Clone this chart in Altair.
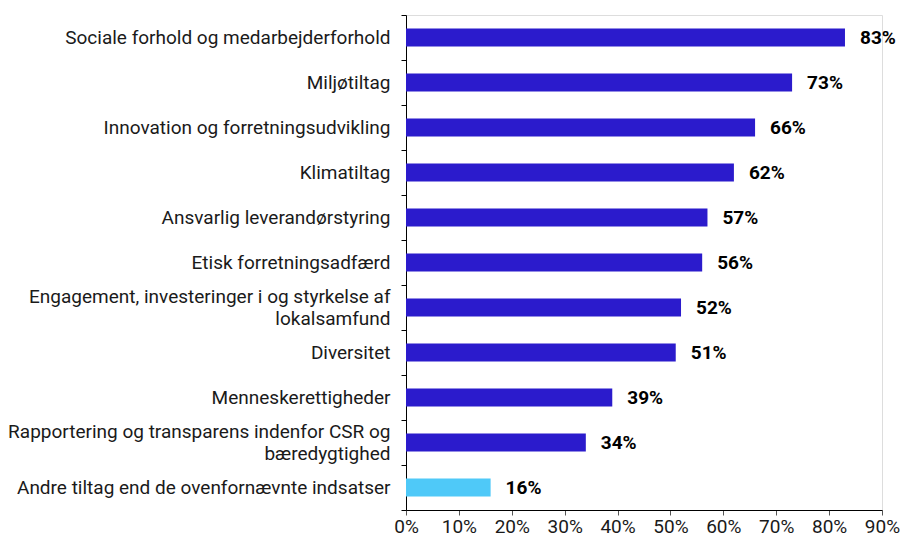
import altair as alt
import pandas as pd

categories = [
    "Sociale forhold og medarbejderforhold",
    "Miljøtiltag",
    "Innovation og forretningsudvikling",
    "Klimatiltag",
    "Ansvarlig leverandørstyring",
    "Etisk forretningsadfærd",
    "Engagement, investeringer i og styrkelse af|lokalsamfund",
    "Diversitet",
    "Menneskerettigheder",
    "Rapportering og transparens indenfor CSR og|bæredygtighed",
    "Andre tiltag end de ovenfornævnte indsatser",
]
values = [0.83, 0.73, 0.66, 0.62, 0.57, 0.56, 0.52, 0.51, 0.39, 0.34, 0.16]
groups = ["main"] * 10 + ["other"]

df = pd.DataFrame({"cat": categories, "val": values, "grp": groups})

FONT = "Roboto"

y = alt.Y(
    "cat:N",
    sort=categories,
    scale=alt.Scale(paddingInner=0, paddingOuter=0),
    axis=alt.Axis(
        title=None,
        labelExpr="split(datum.label, '|')",
        labelFontSize=19,
        labelColor="#1a1a1a",
        labelFont=FONT,
        labelPadding=11,
        labelLineHeight=22,
        labelOffset={"condition": {"test": "indexof(datum.label, '|') >= 0", "value": -11}, "value": 0},
        ticks=True,
        tickBand="extent",
        tickColor="#000000",
        tickSize=5,
        tickWidth=1,
        domainColor="#000000",
        labelLimit=400,
    ),
)

x = alt.X(
    "val:Q",
    scale=alt.Scale(domain=[0, 0.9], nice=False),
    axis=alt.Axis(
        title=None,
        format=".0%",
        values=[0, 0.1, 0.2, 0.3, 0.4, 0.5, 0.6, 0.7, 0.8, 0.9],
        grid=False,
        labelFontSize=19,
        labelColor="#1a1a1a",
        labelFont=FONT,
        labelPadding=2,
        tickColor="#555555",
        tickSize=5,
        domainColor="#000000",
        labelFlush=False,
    ),
)

base = alt.Chart(df)

bars = base.mark_bar(height={"band": 0.4}).encode(
    y=y,
    x=x,
    color=alt.Color(
        "grp:N",
        scale=alt.Scale(domain=["main", "other"], range=["#2b1bcc", "#4fc9f8"]),
        legend=None,
    ),
)

labels = base.mark_text(
    align="left", baseline="middle", dx=15, fontSize=19, fontWeight="bold", font=FONT, color="#000000"
).encode(
    y=alt.Y("cat:N", sort=categories),
    x="val:Q",
    text=alt.Text("val:Q", format=".0%"),
)

chart = (
    alt.layer(bars, labels)
    .properties(
        width=476,
        height=495,
        autosize=alt.AutoSizeParams(type="none"),
        padding={"left": 398, "top": 7, "right": 26, "bottom": 26},
    )
    .configure_view(stroke=None)
    .configure(background="white")
)

chart.save("out.html", embed_options={"renderer": "svg", "actions": False})
